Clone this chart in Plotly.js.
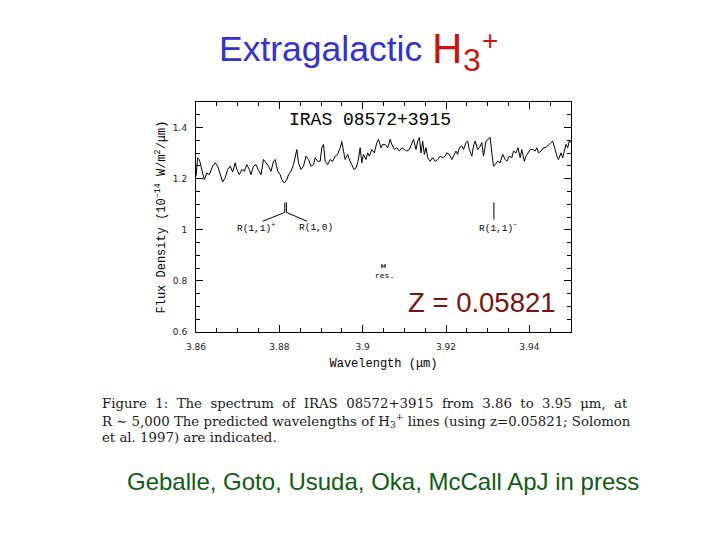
<!DOCTYPE html>
<html>
<head>
<meta charset="utf-8">
<script src="https://cdn.plot.ly/plotly-3.0.1.min.js"></script>
<style>
  html, body { margin: 0; padding: 0; background: #ffffff; }
  #chart { width: 720px; height: 540px; }
</style>
</head>
<body>
<div id="chart"></div>
<script>
// ---- data ----
const wavelength = [
  3.8600, 3.8604, 3.8608, 3.8614, 3.8620, 3.8626, 3.8632, 3.8640, 3.8646, 3.8652,
  3.8658, 3.8664, 3.8670, 3.8676, 3.8682, 3.8688, 3.8694, 3.8698, 3.8704, 3.8710,
  3.8716, 3.8722, 3.8728, 3.8732, 3.8738, 3.8744, 3.8750, 3.8756, 3.8762, 3.8768,
  3.8774, 3.8780, 3.8786, 3.8790, 3.8796, 3.8802, 3.8806, 3.8812, 3.8818, 3.8822,
  3.8828, 3.8834, 3.8838, 3.8842, 3.8846, 3.8852, 3.8858, 3.8864, 3.8870, 3.8876,
  3.8882, 3.8886, 3.8892, 3.8898, 3.8902, 3.8906, 3.8910, 3.8916, 3.8922, 3.8928,
  3.8934, 3.8940, 3.8946, 3.8950, 3.8954, 3.8958, 3.8964, 3.8968, 3.8974, 3.8979,
  3.8984, 3.8989, 3.8994, 3.8998, 3.9002, 3.9008, 3.9012, 3.9016, 3.9022, 3.9028,
  3.9034, 3.9038, 3.9044, 3.9048, 3.9054, 3.9060, 3.9066, 3.9070, 3.9076, 3.9082,
  3.9088, 3.9094, 3.9100, 3.9106, 3.9112, 3.9118, 3.9122, 3.9128, 3.9132, 3.9136,
  3.9140, 3.9144, 3.9148, 3.9152, 3.9156, 3.9162, 3.9168, 3.9174, 3.9180, 3.9186,
  3.9192, 3.9198, 3.9202, 3.9208, 3.9214, 3.9218, 3.9224, 3.9228, 3.9232, 3.9238,
  3.9242, 3.9248, 3.9252, 3.9256, 3.9262, 3.9266, 3.9270, 3.9276, 3.9280, 3.9286,
  3.9290, 3.9296, 3.9302, 3.9306, 3.9310, 3.9314, 3.9318, 3.9324, 3.9330, 3.9336,
  3.9342, 3.9346, 3.9352, 3.9358, 3.9362, 3.9368, 3.9373, 3.9378, 3.9382, 3.9388,
  3.9392, 3.9398, 3.9402, 3.9408, 3.9414, 3.9418, 3.9422, 3.9428, 3.9434, 3.9438,
  3.9444, 3.9448, 3.9452, 3.9456, 3.9462, 3.9466, 3.9470, 3.9476, 3.9480, 3.9484,
  3.9488, 3.9492, 3.9496, 3.9500
];
const fluxDensity = [
  1.209, 1.282, 1.275, 1.236, 1.196, 1.222, 1.216, 1.249, 1.262, 1.249,
  1.222, 1.187, 1.203, 1.236, 1.249, 1.226, 1.262, 1.236, 1.216, 1.236,
  1.229, 1.255, 1.236, 1.216, 1.249, 1.255, 1.232, 1.216, 1.275, 1.262,
  1.249, 1.229, 1.268, 1.275, 1.229, 1.216, 1.196, 1.183, 1.196, 1.216,
  1.229, 1.255, 1.282, 1.314, 1.262, 1.236, 1.249, 1.288, 1.275, 1.249,
  1.255, 1.282, 1.268, 1.268, 1.321, 1.334, 1.268, 1.255, 1.275, 1.268,
  1.288, 1.295, 1.321, 1.345, 1.308, 1.275, 1.295, 1.275, 1.255, 1.236,
  1.242, 1.268, 1.321, 1.262, 1.295, 1.275, 1.301, 1.288, 1.314, 1.301,
  1.341, 1.354, 1.321, 1.334, 1.334, 1.321, 1.354, 1.334, 1.314, 1.321,
  1.308, 1.321, 1.314, 1.308, 1.314, 1.334, 1.354, 1.314, 1.347, 1.361,
  1.301, 1.347, 1.295, 1.321, 1.282, 1.268, 1.282, 1.268, 1.275, 1.288,
  1.282, 1.288, 1.301, 1.295, 1.275, 1.288, 1.308, 1.295, 1.321, 1.328,
  1.314, 1.341, 1.347, 1.314, 1.288, 1.328, 1.347, 1.314, 1.321, 1.341,
  1.288, 1.347, 1.354, 1.361, 1.301, 1.249, 1.255, 1.268, 1.262, 1.295,
  1.275, 1.268, 1.288, 1.282, 1.308, 1.301, 1.321, 1.282, 1.314, 1.268,
  1.288, 1.301, 1.314, 1.314, 1.308, 1.321, 1.301, 1.308, 1.321, 1.321,
  1.328, 1.334, 1.341, 1.347, 1.314, 1.288, 1.275, 1.301, 1.282, 1.308,
  1.334, 1.321, 1.347, 1.341
];

// predicted H3+ line positions (µm) and labels
const lineNames = ["R(1,1)<sup>+</sup>", "R(1,0)", "R(1,1)<sup>−</sup>"];
const lineWavelengths = [3.8813, 3.8817, 3.9315];
const lineLabelWavelengths = [3.8744, 3.8888, 3.9324];
const splitEndWavelengths = [3.8760, 3.8867];
// resolution marker (R ~ 5000 at 3.905 µm)
const resCenter = [3.905];
const resWidth = [0.00078];
const resFlux = [0.858];

const objectName = "IRAS 08572+3915";
const redshiftLabel = "Z = 0.05821";
const xTickVals = [3.86, 3.88, 3.90, 3.92, 3.94];
const xTickText = ["3.86", "3.88", "3.9", "3.92", "3.94"];
const yTickVals = [0.6, 0.8, 1.0, 1.2, 1.4];
const yTickText = ["0.6", "0.8", "1", "1.2", "1.4"];

// caption lines (justified in the reference; extra spacing added to line 1)
const NB = "\u00a0";
const captionWords1 = ["Figure", "1:", "The", "spectrum", "of", "IRAS", "08572+3915", "from", "3.86", "to", "3.95", "μm,", "at"];
const captionLine2 = "R ∼ 5,000 The predicted wavelengths of H<sub>3</sub><sup>+</sup> lines (using z=0.05821; Solomon";
const captionLine3 = "et al. 1997) are indicated.";
const citation = "Geballe, Goto, Usuda, Oka, McCall ApJ in press";

// ---- helpers: pixel position -> paper coordinates (plot box 196..571 x 102..332) ----
const L = 196, R = 571, T = 102, B = 332;
const px = v => (v - L) / (R - L);
const py = v => (B - v) / (B - T);

const mono = "Liberation Mono, Courier New, monospace";
const sans = "Liberation Sans, Arial, sans-serif";
const serif = "DejaVu Serif, serif";

const blackLine = {color: "#000", width: 1};
const shapes = [];
// paired lines R(1,1)+ / R(1,0)
shapes.push({type: "line", xref: "x", yref: "y", x0: lineWavelengths[0], x1: lineWavelengths[0], y0: 1.068, y1: 1.107, line: blackLine});
shapes.push({type: "line", xref: "x", yref: "y", x0: lineWavelengths[1], x1: lineWavelengths[1], y0: 1.068, y1: 1.107, line: blackLine});
shapes.push({type: "line", xref: "x", yref: "y", x0: lineWavelengths[0], x1: splitEndWavelengths[0], y0: 1.068, y1: 1.033, line: blackLine});
shapes.push({type: "line", xref: "x", yref: "y", x0: lineWavelengths[1], x1: splitEndWavelengths[1], y0: 1.068, y1: 1.033, line: blackLine});
// R(1,1)- line
shapes.push({type: "line", xref: "x", yref: "y", x0: lineWavelengths[2], x1: lineWavelengths[2], y0: 1.040, y1: 1.107, line: blackLine});
// resolution bar
shapes.push({type: "line", xref: "x", yref: "y", x0: resCenter[0] - resWidth[0] / 2, x1: resCenter[0] + resWidth[0] / 2, y0: resFlux[0], y1: resFlux[0], line: blackLine});
shapes.push({type: "line", xref: "x", yref: "y", x0: resCenter[0] - resWidth[0] / 2, x1: resCenter[0] - resWidth[0] / 2, y0: resFlux[0] - 0.008, y1: resFlux[0] + 0.008, line: blackLine});
shapes.push({type: "line", xref: "x", yref: "y", x0: resCenter[0] + resWidth[0] / 2, x1: resCenter[0] + resWidth[0] / 2, y0: resFlux[0] - 0.008, y1: resFlux[0] + 0.008, line: blackLine});

const annotations = [
  // slide title
  {xref: "paper", yref: "paper", x: px(217), y: py(49), xanchor: "left", yanchor: "middle", showarrow: false,
   text: "Extragalactic", font: {family: sans, size: 35.5, color: "#3333cc"}},
  {xref: "paper", yref: "paper", x: px(430), y: py(48), xanchor: "left", yanchor: "middle", showarrow: false,
   text: "H", font: {family: sans, size: 42, color: "#cc1111"}},
  {xref: "paper", yref: "paper", x: px(461), y: py(60), xanchor: "left", yanchor: "middle", showarrow: false,
   text: "3", font: {family: sans, size: 32, color: "#cc1111"}},
  {xref: "paper", yref: "paper", x: px(480), y: py(40), xanchor: "left", yanchor: "middle", showarrow: false,
   text: "+", font: {family: sans, size: 28, color: "#cc1111"}},
  // object name inside plot
  {xref: "paper", yref: "paper", x: px(370), y: py(120), xanchor: "center", yanchor: "middle", showarrow: false,
   text: objectName, font: {family: mono, size: 18, color: "#000"}},
  // line labels
  {xref: "x", yref: "y", x: lineLabelWavelengths[0], y: 1.01, xanchor: "center", yanchor: "middle", showarrow: false,
   text: lineNames[0], font: {family: mono, size: 9.5, color: "#000"}},
  {xref: "x", yref: "y", x: lineLabelWavelengths[1], y: 1.01, xanchor: "center", yanchor: "middle", showarrow: false,
   text: lineNames[1], font: {family: mono, size: 9.5, color: "#000"}},
  {xref: "x", yref: "y", x: lineLabelWavelengths[2], y: 1.01, xanchor: "center", yanchor: "middle", showarrow: false,
   text: lineNames[2], font: {family: mono, size: 9.5, color: "#000"}},
  // resolution label
  {xref: "x", yref: "y", x: resCenter[0] + 0.0002, y: resFlux[0] - 0.038, xanchor: "center", yanchor: "middle", showarrow: false,
   text: "res.", font: {family: mono, size: 8, color: "#000"}},
  // redshift
  {xref: "paper", yref: "paper", x: px(482), y: py(302), xanchor: "center", yanchor: "middle", showarrow: false,
   text: redshiftLabel, font: {family: sans, size: 27.5, color: "#7a1212"}},
  // caption
  {xref: "paper", yref: "paper", x: px(100), y: py(403), xanchor: "left", yanchor: "middle", showarrow: false,
   text: captionWords1.join(NB + " "),
   font: {family: serif, size: 13.3, color: "#1a1a1a"}},
  {xref: "paper", yref: "paper", x: px(100), y: py(420), xanchor: "left", yanchor: "middle", showarrow: false,
   text: captionLine2,
   font: {family: serif, size: 13.3, color: "#1a1a1a"}},
  {xref: "paper", yref: "paper", x: px(100), y: py(437), xanchor: "left", yanchor: "middle", showarrow: false,
   text: captionLine3,
   font: {family: serif, size: 13.3, color: "#1a1a1a"}},
  // citation
  {xref: "paper", yref: "paper", x: px(383), y: py(481), xanchor: "center", yanchor: "middle", showarrow: false,
   text: citation,
   font: {family: sans, size: 24, color: "#0f5c14"}}
];

const trace = {
  x: wavelength, y: fluxDensity, type: "scatter", mode: "lines",
  line: {color: "#000", width: 1}, hoverinfo: "x+y"
};

const layout = {
  width: 720, height: 540,
  margin: {l: L, r: 720 - R, t: T, b: 540 - B, pad: 0},
  paper_bgcolor: "#ffffff", plot_bgcolor: "#ffffff",
  showlegend: false,
  xaxis: {
    range: [3.86, 3.95], tickvals: xTickVals, ticktext: xTickText,
    ticks: "inside", ticklen: 7, tickcolor: "#000", tickwidth: 1,
    minor: {dtick: 0.005, tick0: 3.86, ticks: "inside", ticklen: 4, tickcolor: "#000", tickwidth: 1, showgrid: false},
    showline: true, linecolor: "#000", linewidth: 1, mirror: "allticks",
    showgrid: false, zeroline: false, ticklabelstandoff: 6,
    tickfont: {family: "DejaVu Sans, sans-serif", size: 9, color: "#222"},
    title: {text: "Wavelength (μm)", font: {family: mono, size: 12, color: "#000"}, standoff: 7}
  },
  yaxis: {
    range: [0.6, 1.5], tickvals: yTickVals, ticktext: yTickText,
    ticks: "inside", ticklen: 7, tickcolor: "#000", tickwidth: 1,
    minor: {dtick: 0.05, tick0: 0.6, ticks: "inside", ticklen: 4, tickcolor: "#000", tickwidth: 1, showgrid: false},
    showline: true, linecolor: "#000", linewidth: 1, mirror: "allticks",
    showgrid: false, zeroline: false, ticklabelstandoff: 6,
    tickfont: {family: "DejaVu Sans, sans-serif", size: 9, color: "#222"},
    title: {text: "Flux Density (10<sup>−14</sup> W/m<sup>2</sup>/μm)", font: {family: mono, size: 12, color: "#000"}, standoff: 4}
  },
  shapes: shapes,
  annotations: annotations
};

Plotly.newPlot("chart", [trace], layout, {displayModeBar: false, staticPlot: true});
</script>
</body>
</html>
